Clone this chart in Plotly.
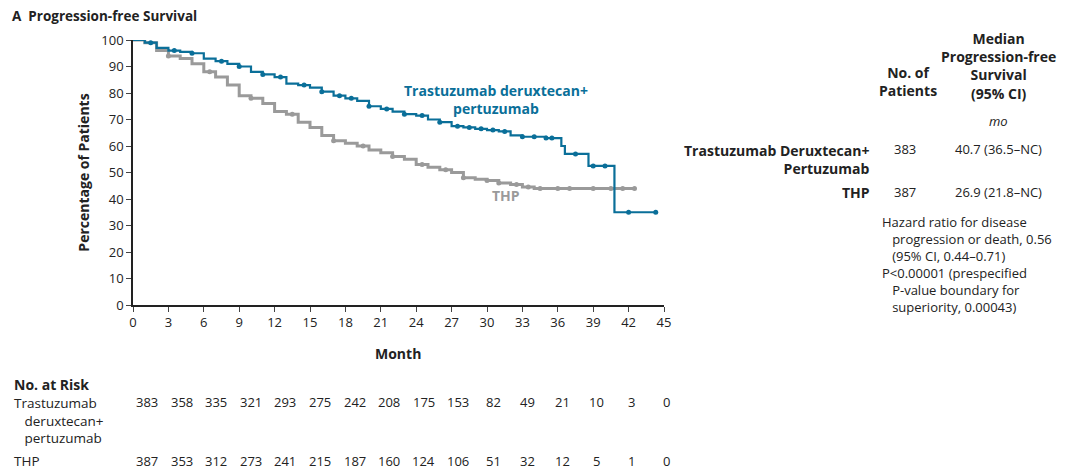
import plotly.graph_objects as go

# Kaplan-Meier steps
tdxd_t = [0, 1, 2, 3, 4, 5, 6, 7, 8, 9, 10, 11, 12, 13, 14, 15, 16, 17, 18, 19, 20, 21, 22, 23, 24, 25, 26, 27, 28, 29, 30, 31, 32, 33, 35, 36.3, 36.6, 38.6, 40.8, 44.3]
tdxd_s = [100, 99, 97, 96, 95.5, 95, 93, 92, 91, 90, 88, 87, 86, 83.5, 83, 82, 80.5, 79, 78, 77, 75, 74, 73, 72, 71.5, 70, 69, 67.5, 67, 66.5, 66, 65.5, 64, 63.5, 63, 60, 57, 52.5, 35, 35]
thp_t = [0, 1, 2, 3, 4, 5, 6, 7, 8, 9, 10, 11, 12, 13, 14, 15, 16, 17, 18, 19, 20, 21, 22, 23, 24, 25, 26, 27, 28, 29, 30, 31, 32, 33, 34, 42.5]
thp_s = [100, 99, 96, 94, 93, 91, 88, 86, 83, 79, 78, 76, 73, 72, 69, 67, 64, 62, 61, 60, 58.5, 57.5, 56, 55, 53, 52, 51, 50, 48, 47.5, 47, 46, 45.5, 44.5, 44, 44]

tdxd_cens = [1.5, 3.5, 5, 7.5, 9, 11, 12.5, 14.5, 16, 17.5, 18.5, 20, 21.5, 23, 24.5, 26, 27.5, 28.5, 29.5, 30.5, 31.5, 33, 34, 35, 35.5, 37.5, 39, 40, 42, 44.3]
thp_cens = [3, 6.5, 10, 13.5, 17, 19.5, 22, 24.5, 26.5, 28, 30, 31, 32.5, 33.5, 34.5, 36, 37, 39, 40.5, 41.5, 42.5]

months = list(range(0, 46, 3))
risk_tdxd = [383, 358, 335, 321, 293, 275, 242, 208, 175, 153, 82, 49, 21, 10, 3, 0]
risk_thp = [387, 353, 312, 273, 241, 215, 187, 160, 124, 106, 51, 32, 12, 5, 1, 0]

BLUE = "#0a6f99"
GREY = "#9a9a9a"


def surv_at(ts, ss, t):
    v = ss[0]
    for a, b in zip(ts, ss):
        if a <= t:
            v = b
    return v


fig = go.Figure()
fig.add_trace(go.Scatter(x=thp_t, y=thp_s, mode="lines", line=dict(shape="hv", color=GREY, width=3)))
fig.add_trace(go.Scatter(x=thp_cens, y=[surv_at(thp_t, thp_s, t) for t in thp_cens], mode="markers",
                         marker=dict(color=GREY, size=5)))
fig.add_trace(go.Scatter(x=tdxd_t, y=tdxd_s, mode="lines", line=dict(shape="hv", color=BLUE, width=2.2)))
fig.add_trace(go.Scatter(x=tdxd_cens, y=[surv_at(tdxd_t, tdxd_s, t) for t in tdxd_cens], mode="markers",
                         marker=dict(color=BLUE, size=5)))

W, L, PW = 1080, 125, 531
T, PH = 32, 265


def px(x):
    return (x - L) / PW


def py(y):
    return 1 - (y - T) / PH


ann = []


def txt(x, y, s, xa="left", size=13, color="#222", bold=False):
    ann.append(dict(x=px(x), y=py(y), xref="paper", yref="paper", text=f"<b>{s}</b>" if bold else s,
                    showarrow=False, xanchor=xa, yanchor="middle", align=xa,
                    font=dict(size=size, color=color)))


txt(2, 8, "A  Progression-free Survival", bold=True, size=13.5)
txt(488, 92, "Trastuzumab deruxtecan+<br>pertuzumab", size=14, color=BLUE, xa="center", bold=True)
txt(482, 187, "THP", size=14, color=GREY, bold=True)
txt(900, 73, "No. of<br>Patients", xa="center", bold=True, size=14)
txt(990, 58, "Median<br>Progression-free<br>Survival<br>(95% CI)", xa="center", bold=True, size=14)
txt(990, 113, "<i>mo</i>", xa="center")
txt(864, 151, "Trastuzumab Deruxtecan+<br>Pertuzumab", xa="right", bold=True, size=14)
txt(897, 141, "383", xa="center")
txt(990, 141, "40.7 (36.5–NC)", xa="center")
txt(864, 184, "THP", xa="right", bold=True, size=14)
txt(897, 184, "387", xa="center")
txt(990, 184, "26.9 (21.8–NC)", xa="center")
txt(872, 256, "Hazard ratio for disease<br>   progression or death, 0.56<br>   (95% CI, 0.44–0.71)<br>P<0.00001 (prespecified<br>   P-value boundary for<br>   superiority, 0.00043)", xa="left")
txt(390, 345, "Month", xa="center", bold=True, size=14)
txt(4, 376, "No. at Risk", bold=True, size=14)
txt(4, 412, "Trastuzumab<br>   deruxtecan+<br>   pertuzumab", size=13.5)
txt(4, 453, "THP", size=13.5)
for i, (a, b) in enumerate(zip(risk_tdxd, risk_thp)):
    x = 139 + i * (658 - 139) / 15
    txt(x, 394, str(a), xa="center")
    txt(x, 453, str(b), xa="center")

fig.update_layout(
    width=W, height=474, margin=dict(l=L, r=W - L - PW, t=T, b=474 - T - PH),
    plot_bgcolor="white", paper_bgcolor="white", showlegend=False,
    font=dict(family="Open Sans, sans-serif", size=13, color="#222"),
    annotations=ann,
    xaxis=dict(range=[0, 45], tickvals=months, ticks="outside", ticklen=5, showgrid=False,
               showline=True, linecolor="#222", linewidth=1.5, zeroline=False, tickfont=dict(size=13)),
    yaxis=dict(range=[0, 100], dtick=10, ticks="outside", ticklen=5, showgrid=False,
               showline=True, linecolor="#222", linewidth=1.5, zeroline=False, tickfont=dict(size=13),
               title=dict(text="<b>Percentage of Patients</b>", font=dict(size=14), standoff=8)),
)
fig.write_html("out.html")
